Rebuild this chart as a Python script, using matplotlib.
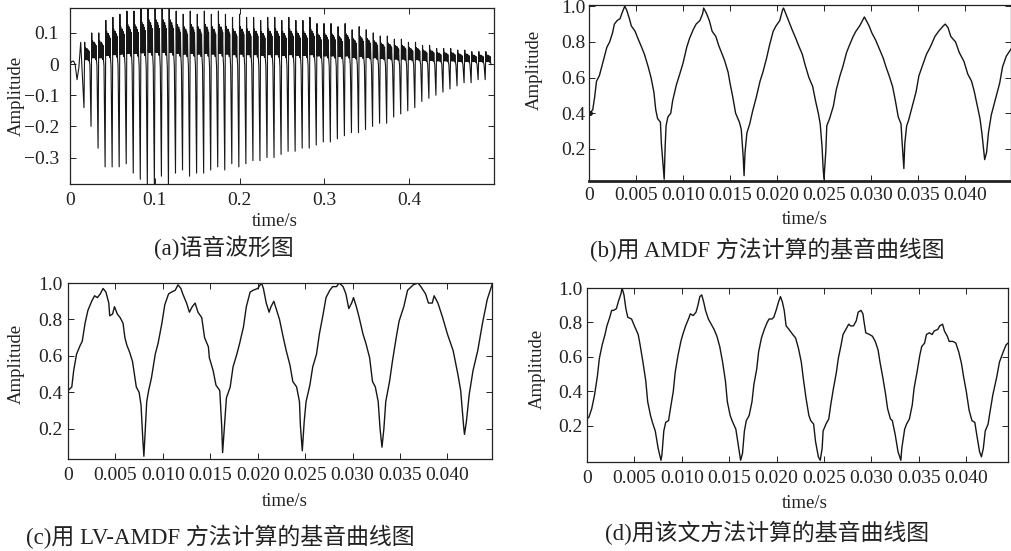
import numpy as np
import matplotlib
matplotlib.use("Agg")
import matplotlib.pyplot as plt

plt.rcParams['font.family'] = ['Liberation Serif', 'Noto Sans CJK SC', 'DejaVu Sans']
plt.rcParams['axes.unicode_minus'] = True

# ---------------- data ----------------
# (a) speech waveform: onset, then one pitch pulse per entry
onset_t = [0.0, 0.002, 0.004, 0.006, 0.0083, 0.0105, 0.0126]
onset_v = [0.0, 0.008, 0.01, 0.0, -0.05, -0.01, 0.07]
pulse_start = 0.0165
pitch_period = 0.0083
wave_neg = [-0.14, -0.20, -0.27, -0.33, -0.33, -0.33, -0.32, -0.35, -0.37, -0.39,
            -0.39, -0.36, -0.40, -0.35, -0.34, -0.36, -0.35, -0.35, -0.34, -0.33,
            -0.34, -0.32, -0.33, -0.32, -0.31, -0.31, -0.30, -0.30, -0.29, -0.28,
            -0.28, -0.27, -0.27, -0.26, -0.25, -0.25, -0.24, -0.23, -0.22, -0.22,
            -0.21, -0.20, -0.19, -0.19, -0.17, -0.16, -0.15, -0.14, -0.12, -0.11,
            -0.10, -0.09, -0.08, -0.07, -0.06, -0.06, -0.05, -0.05]
wave_pos = [0.07, 0.10, 0.10, 0.14, 0.15, 0.16, 0.17, 0.17, 0.18, 0.19,
            0.19, 0.19, 0.19, 0.17, 0.16, 0.17, 0.16, 0.17, 0.16, 0.17,
            0.16, 0.15, 0.16, 0.15, 0.15, 0.14, 0.15, 0.15, 0.14, 0.15,
            0.14, 0.14, 0.15, 0.13, 0.13, 0.13, 0.12, 0.13, 0.11, 0.12,
            0.11, 0.10, 0.09, 0.09, 0.08, 0.08, 0.07, 0.07, 0.06, 0.06,
            0.05, 0.05, 0.05, 0.045, 0.045, 0.04, 0.04, 0.04]
# shape of one pitch period (phase within period, fraction of positive peak)
pulse_phase = [0.10, 0.16, 0.22, 0.28, 0.34, 0.40, 0.46, 0.52, 0.58, 0.64, 0.70, 0.76, 0.84]
pulse_gain = [1.0, 0.20, 0.75, 0.20, 0.70, 0.20, 0.70, 0.20, 0.65, 0.15, 0.60, 0.15, -0.05]

# (b) AMDF
amdf_t = [0.0001, 0.0004, 0.0006, 0.0008, 0.0011, 0.0013, 0.0017, 0.0019, 0.0022, 0.0025,
          0.0027, 0.0030, 0.0033, 0.0035, 0.0038, 0.0040, 0.0043, 0.0045, 0.0049, 0.0052,
          0.0056, 0.0059, 0.0063, 0.0066, 0.0069, 0.0071, 0.0073, 0.0076, 0.0077, 0.0079,
          0.0080, 0.0081, 0.0082, 0.0084, 0.0087, 0.0089, 0.0093, 0.0096, 0.0100, 0.0104,
          0.0107, 0.0111, 0.0114, 0.0118, 0.0121, 0.0122, 0.0125, 0.0128, 0.0131, 0.0135,
          0.0138, 0.0141, 0.0144, 0.0148, 0.0150, 0.0153, 0.0156, 0.0160, 0.0162, 0.0164,
          0.0165, 0.0166, 0.0168, 0.0171, 0.0174, 0.0178, 0.0182, 0.0185, 0.0189, 0.0192,
          0.0196, 0.0199, 0.0203, 0.0206, 0.0207, 0.0210, 0.0213, 0.0216, 0.0220, 0.0223,
          0.0227, 0.0230, 0.0234, 0.0238, 0.0241, 0.0244, 0.0246, 0.0248, 0.0249, 0.0250,
          0.0252, 0.0253, 0.0256, 0.0260, 0.0263, 0.0267, 0.0270, 0.0274, 0.0277, 0.0281,
          0.0284, 0.0288, 0.0291, 0.0293, 0.0295, 0.0298, 0.0301, 0.0305, 0.0309, 0.0313,
          0.0316, 0.0320, 0.0323, 0.0326, 0.0329, 0.0332, 0.0333, 0.0335, 0.0336, 0.0338,
          0.0340, 0.0344, 0.0348, 0.0351, 0.0355, 0.0359, 0.0363, 0.0368, 0.0372, 0.0377,
          0.0379, 0.0382, 0.0385, 0.0390, 0.0394, 0.0399, 0.0403, 0.0407, 0.0410, 0.0414,
          0.0416, 0.0418, 0.0421, 0.0423, 0.0425, 0.0428, 0.0433, 0.0437, 0.0440, 0.0444,
          0.0449]
amdf_v = [0.40, 0.42, 0.49, 0.58, 0.61, 0.65, 0.73, 0.77, 0.80, 0.85,
          0.90, 0.92, 0.93, 0.96, 1.00, 0.98, 0.93, 0.89, 0.86, 0.82,
          0.77, 0.73, 0.66, 0.60, 0.52, 0.42, 0.37, 0.35, 0.23, 0.10,
          0.03, 0.21, 0.33, 0.38, 0.40, 0.47, 0.56, 0.61, 0.68, 0.77,
          0.82, 0.87, 0.90, 0.92, 0.96, 0.99, 0.96, 0.92, 0.86, 0.83,
          0.78, 0.74, 0.70, 0.63, 0.57, 0.49, 0.40, 0.35, 0.31, 0.16,
          0.05, 0.18, 0.29, 0.34, 0.41, 0.49, 0.58, 0.63, 0.71, 0.78,
          0.86, 0.89, 0.92, 0.98, 0.99, 0.95, 0.91, 0.87, 0.82, 0.78,
          0.73, 0.67, 0.60, 0.55, 0.47, 0.40, 0.34, 0.21, 0.10, 0.03,
          0.19, 0.33, 0.37, 0.44, 0.53, 0.61, 0.66, 0.74, 0.78, 0.83,
          0.86, 0.89, 0.92, 0.94, 0.92, 0.89, 0.85, 0.81, 0.76, 0.71,
          0.66, 0.60, 0.55, 0.47, 0.38, 0.34, 0.25, 0.09, 0.23, 0.33,
          0.36, 0.44, 0.52, 0.61, 0.67, 0.73, 0.77, 0.83, 0.86, 0.89,
          0.90, 0.88, 0.83, 0.80, 0.74, 0.69, 0.62, 0.58, 0.52, 0.42,
          0.37, 0.29, 0.14, 0.18, 0.29, 0.39, 0.49, 0.57, 0.66, 0.72,
          0.76]

# (c) LV-AMDF
lv_t = [0.0000, 0.0004, 0.0006, 0.0009, 0.0013, 0.0015, 0.0018, 0.0021, 0.0025, 0.0028,
        0.0031, 0.0034, 0.0037, 0.0040, 0.0043, 0.0044, 0.0047, 0.0049, 0.0052, 0.0055,
        0.0058, 0.0060, 0.0062, 0.0065, 0.0068, 0.0070, 0.0072, 0.0075, 0.0077, 0.0079,
        0.0080, 0.0081, 0.0083, 0.0085, 0.0088, 0.0092, 0.0095, 0.0099, 0.0102, 0.0106,
        0.0109, 0.0113, 0.0116, 0.0119, 0.0121, 0.0125, 0.0128, 0.0131, 0.0134, 0.0137,
        0.0141, 0.0144, 0.0148, 0.0149, 0.0153, 0.0156, 0.0160, 0.0162, 0.0163, 0.0165,
        0.0167, 0.0171, 0.0174, 0.0178, 0.0181, 0.0185, 0.0188, 0.0192, 0.0195, 0.0200,
        0.0204, 0.0206, 0.0209, 0.0212, 0.0214, 0.0217, 0.0220, 0.0223, 0.0227, 0.0230,
        0.0234, 0.0237, 0.0241, 0.0244, 0.0245, 0.0247, 0.0249, 0.0251, 0.0255, 0.0258,
        0.0262, 0.0265, 0.0269, 0.0272, 0.0276, 0.0279, 0.0283, 0.0286, 0.0290, 0.0293,
        0.0296, 0.0299, 0.0301, 0.0304, 0.0307, 0.0311, 0.0314, 0.0318, 0.0321, 0.0324,
        0.0327, 0.0329, 0.0331, 0.0333, 0.0335, 0.0339, 0.0342, 0.0346, 0.0349, 0.0354,
        0.0358, 0.0364, 0.0369, 0.0372, 0.0377, 0.0380, 0.0384, 0.0386, 0.0390, 0.0395,
        0.0400, 0.0406, 0.0411, 0.0414, 0.0417, 0.0418, 0.0420, 0.0423, 0.0427, 0.0432,
        0.0437, 0.0442, 0.0447]
lv_v = [0.41, 0.43, 0.52, 0.61, 0.66, 0.68, 0.78, 0.85, 0.90, 0.93,
        0.92, 0.94, 0.97, 0.95, 0.89, 0.82, 0.83, 0.87, 0.83, 0.81,
        0.78, 0.70, 0.66, 0.62, 0.57, 0.50, 0.43, 0.40, 0.33, 0.13,
        0.05, 0.15, 0.35, 0.41, 0.48, 0.61, 0.67, 0.78, 0.88, 0.94,
        0.95, 0.96, 0.99, 0.97, 0.94, 0.89, 0.84, 0.87, 0.89, 0.84,
        0.81, 0.70, 0.65, 0.59, 0.52, 0.44, 0.41, 0.22, 0.07, 0.22,
        0.37, 0.43, 0.54, 0.61, 0.67, 0.76, 0.87, 0.95, 0.96, 0.97,
        1.00, 0.97, 0.89, 0.84, 0.87, 0.90, 0.85, 0.80, 0.70, 0.63,
        0.55, 0.46, 0.43, 0.35, 0.22, 0.08, 0.24, 0.35, 0.44, 0.54,
        0.61, 0.72, 0.83, 0.92, 0.96, 0.98, 0.98, 1.00, 0.98, 0.94,
        0.86, 0.89, 0.92, 0.87, 0.81, 0.72, 0.67, 0.59, 0.46, 0.43,
        0.35, 0.20, 0.10, 0.20, 0.35, 0.46, 0.57, 0.70, 0.79, 0.87,
        0.96, 0.99, 1.00, 0.98, 0.94, 0.89, 0.89, 0.93, 0.89, 0.81,
        0.72, 0.63, 0.50, 0.41, 0.22, 0.17, 0.24, 0.39, 0.52, 0.63,
        0.78, 0.91, 0.99]

# (d) proposed method
new_t = [0.0000, 0.0002, 0.0005, 0.0008, 0.0011, 0.0013, 0.0016, 0.0019, 0.0021, 0.0024,
         0.0026, 0.0028, 0.0031, 0.0033, 0.0036, 0.0037, 0.0039, 0.0041, 0.0043, 0.0047,
         0.0050, 0.0054, 0.0056, 0.0059, 0.0062, 0.0064, 0.0067, 0.0069, 0.0072, 0.0075,
         0.0078, 0.0079, 0.0081, 0.0083, 0.0086, 0.0088, 0.0091, 0.0093, 0.0096, 0.0099,
         0.0101, 0.0104, 0.0107, 0.0109, 0.0112, 0.0115, 0.0117, 0.0119, 0.0121, 0.0123,
         0.0125, 0.0128, 0.0130, 0.0134, 0.0137, 0.0140, 0.0143, 0.0146, 0.0148, 0.0151,
         0.0153, 0.0157, 0.0160, 0.0162, 0.0164, 0.0166, 0.0168, 0.0171, 0.0174, 0.0176,
         0.0179, 0.0181, 0.0184, 0.0187, 0.0190, 0.0192, 0.0195, 0.0197, 0.0200, 0.0202,
         0.0204, 0.0206, 0.0208, 0.0210, 0.0213, 0.0217, 0.0220, 0.0223, 0.0226, 0.0228,
         0.0231, 0.0234, 0.0236, 0.0239, 0.0241, 0.0244, 0.0246, 0.0248, 0.0249, 0.0252,
         0.0255, 0.0257, 0.0260, 0.0263, 0.0265, 0.0268, 0.0270, 0.0273, 0.0276, 0.0278,
         0.0281, 0.0284, 0.0286, 0.0289, 0.0291, 0.0292, 0.0294, 0.0298, 0.0301, 0.0304,
         0.0307, 0.0309, 0.0312, 0.0315, 0.0317, 0.0320, 0.0322, 0.0325, 0.0328, 0.0331,
         0.0332, 0.0335, 0.0337, 0.0340, 0.0343, 0.0345, 0.0348, 0.0351, 0.0353, 0.0356,
         0.0358, 0.0361, 0.0364, 0.0366, 0.0370, 0.0372, 0.0375, 0.0377, 0.0380, 0.0382,
         0.0386, 0.0389, 0.0392, 0.0395, 0.0397, 0.0400, 0.0403, 0.0406, 0.0409, 0.0411,
         0.0414, 0.0416, 0.0418, 0.0420, 0.0423, 0.0425, 0.0428, 0.0432, 0.0435, 0.0439,
         0.0442, 0.0444]
new_v = [0.24, 0.25, 0.30, 0.38, 0.49, 0.59, 0.67, 0.73, 0.78, 0.83,
         0.87, 0.87, 0.88, 0.92, 0.97, 1.00, 0.96, 0.88, 0.83, 0.82,
         0.78, 0.73, 0.67, 0.57, 0.46, 0.34, 0.26, 0.22, 0.17, 0.07,
         0.00, 0.03, 0.17, 0.22, 0.23, 0.30, 0.40, 0.51, 0.61, 0.69,
         0.73, 0.78, 0.82, 0.85, 0.84, 0.86, 0.90, 0.95, 0.96, 0.92,
         0.87, 0.82, 0.80, 0.76, 0.72, 0.66, 0.57, 0.46, 0.34, 0.26,
         0.23, 0.18, 0.07, 0.00, 0.04, 0.17, 0.23, 0.26, 0.34, 0.44,
         0.53, 0.63, 0.71, 0.76, 0.80, 0.82, 0.82, 0.83, 0.88, 0.92,
         0.95, 0.92, 0.87, 0.78, 0.76, 0.73, 0.71, 0.65, 0.57, 0.48,
         0.36, 0.26, 0.23, 0.21, 0.11, 0.02, 0.00, 0.07, 0.17, 0.21,
         0.24, 0.32, 0.42, 0.51, 0.59, 0.67, 0.73, 0.76, 0.79, 0.78,
         0.78, 0.81, 0.86, 0.87, 0.85, 0.81, 0.74, 0.73, 0.72, 0.69,
         0.64, 0.57, 0.48, 0.38, 0.30, 0.24, 0.23, 0.15, 0.05, 0.00,
         0.07, 0.18, 0.21, 0.24, 0.32, 0.42, 0.51, 0.61, 0.66, 0.68,
         0.73, 0.74, 0.73, 0.75, 0.76, 0.78, 0.79, 0.75, 0.72, 0.69,
         0.69, 0.68, 0.63, 0.56, 0.49, 0.40, 0.29, 0.23, 0.22, 0.15,
         0.05, 0.02, 0.07, 0.17, 0.21, 0.28, 0.38, 0.48, 0.57, 0.63,
         0.67, 0.68]

wave_xticks = [0, 0.1, 0.2, 0.3, 0.4]
wave_xlabels = ['0', '0.1', '0.2', '0.3', '0.4']
wave_yticks = [-0.3, -0.2, -0.1, 0, 0.1]
wave_ylabels = ['\u22120.3', '\u22120.2', '\u22120.1', '0', '0.1']
pitch_xticks = [0, 0.005, 0.010, 0.015, 0.020, 0.025, 0.030, 0.035, 0.040]
pitch_xlabels = ['0', '0.005', '0.010', '0.015', '0.020', '0.025', '0.030', '0.035', '0.040']
pitch_yticks = [0.2, 0.4, 0.6, 0.8, 1.0]
pitch_ylabels = ['0.2', '0.4', '0.6', '0.8', '1.0']

captions = ['(a)语音波形图', '(b)用 AMDF 方法计算的基音曲线图',
            '(c)用 LV-AMDF 方法计算的基音曲线图', '(d)用该文方法计算的基音曲线图']

# build waveform from pulses
wt = list(onset_t)
wv = list(onset_v)
for k, (lo, hi) in enumerate(zip(wave_neg, wave_pos)):
    t0 = pulse_start + k * pitch_period
    wt.append(t0)
    wv.append(lo)
    for ph, g in zip(pulse_phase, pulse_gain):
        wt.append(t0 + ph * pitch_period)
        wv.append(g * hi)

W, H = 1011, 551
fig = plt.figure(figsize=(W / 100, H / 100), dpi=100)


def px_axes(x0, y0, x1, y1):
    return fig.add_axes([x0 / W, 1 - y1 / H, (x1 - x0) / W, (y1 - y0) / H])


line_kw = dict(color='#161616', lw=1.0)
tick_fs = 14

ax_a = px_axes(70, 8, 494, 184)
ax_b = px_axes(589, 5, 1011, 181)
ax_c = px_axes(68, 283, 492, 459)
ax_d = px_axes(587, 288, 1008, 462)

ax_a.plot(wt, wv, color='#161616', lw=0.8)
ax_a.set_xlim(0, 0.5)
ax_a.set_ylim(-0.385, 0.18)
ax_a.set_xticks(wave_xticks, wave_xlabels)
ax_a.set_yticks(wave_yticks, wave_ylabels)

ax_b.plot(amdf_t, amdf_v, **line_kw)
ax_b.plot(amdf_t[0], amdf_v[0], 'o', color='#161616', ms=2.5)
ax_b.set_xlim(0, 0.0449)
ax_b.set_ylim(0.02, 1.007)

ax_c.plot(lv_t, lv_v, **line_kw)
ax_c.set_xlim(0, 0.0447)
ax_c.set_ylim(0.035, 1.0)

ax_d.plot(new_t, new_v, **line_kw)
ax_d.set_xlim(0, 0.0444)
ax_d.set_ylim(-0.01, 1.0)

for ax in (ax_b, ax_c, ax_d):
    ax.set_xticks(pitch_xticks, pitch_xlabels)
    ax.set_yticks(pitch_yticks, pitch_ylabels)

pads = {ax_a: (6, 8), ax_b: (4, 2.5), ax_c: (6, 4), ax_d: (5.5, 3.5)}
for ax, (xp, yp) in pads.items():
    ax.tick_params(direction='in', top=True, right=True, length=4, width=0.7,
                   labelsize=tick_fs, colors='#222222')
    ax.tick_params(axis='x', pad=xp)
    ax.tick_params(axis='y', pad=yp)
    for s in ax.spines.values():
        s.set_linewidth(0.9)
        s.set_color('#222222')
ax_b.spines['bottom'].set_linewidth(2.0)


def ftext(x, y, s, **kw):
    fig.text(x / W, 1 - y / H, s, ha='center', va='center', color='#222222', **kw)


lab_fs = 13.5
cap_fs = 16.5
# x labels
for (x, y) in [(275, 222), (805, 220), (285, 502), (805, 503)]:
    ftext(x, y, 'time/s', fontsize=lab_fs)
# y labels
for (x, y) in [(16, 96), (534, 70), (16, 364), (537, 369)]:
    ftext(x, y, 'Amplitude', fontsize=lab_fs, rotation=90)
# captions
for (x, y), s in zip([(224, 248), (767, 250), (220, 537), (767, 533)], captions):
    ftext(x, y, s, fontsize=cap_fs)

fig.savefig('out.png', dpi=100, facecolor='white')
